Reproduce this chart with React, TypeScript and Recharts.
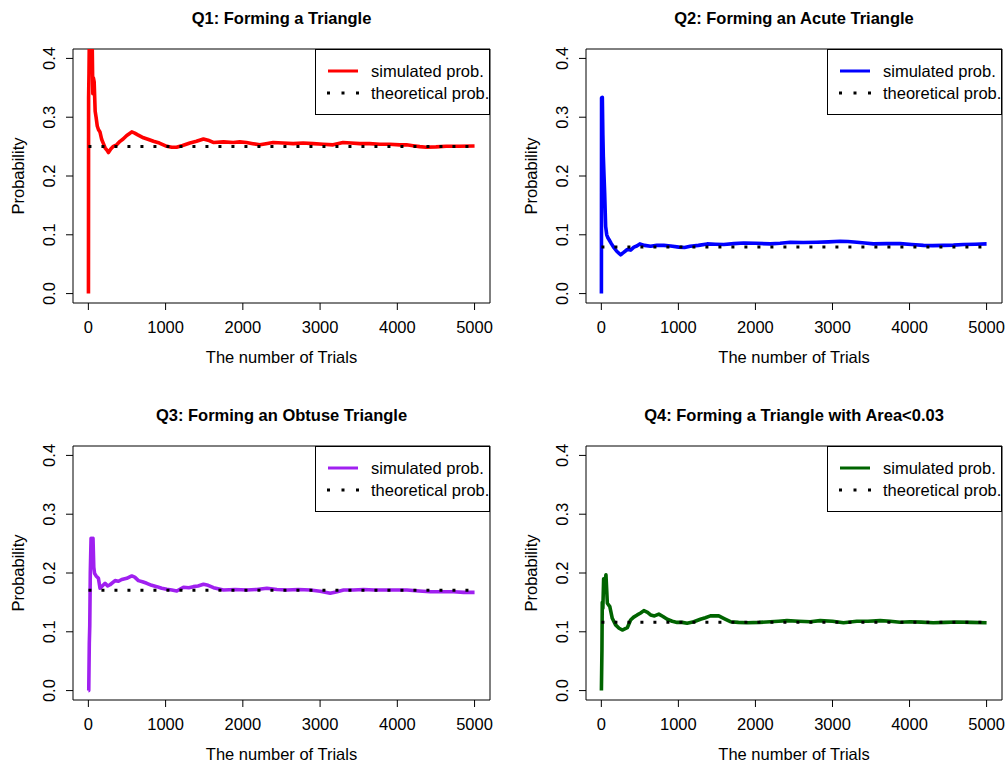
import React from 'react';
import { LineChart, Line, XAxis, YAxis, ReferenceArea, Legend, Label } from 'recharts';

const FONT = '"Liberation Sans", Arial, Helvetica, sans-serif';
const FS = 16.5;

const xTicks = [0, 1000, 2000, 3000, 4000, 5000];
const yTicks = [0, 0.1, 0.2, 0.3, 0.4];
const xDomain: [number, number] = [-198.96, 5199.96];
const yDomain: [number, number] = [-0.016, 0.416];

const titles = [
  'Q1: Forming a Triangle',
  'Q2: Forming an Acute Triangle',
  'Q3: Forming an Obtuse Triangle',
  'Q4: Forming a Triangle with Area<0.03',
];
const colors = ['#FF0000', '#0000FF', '#A020F0', '#006400'];
const theoretical = [0.25, 0.0794, 0.1706, 0.1162];
const legendLabels = ['simulated prob.', 'theoretical prob.'];

const q1Trials = [1, 3, 8, 15, 25, 40, 50, 58, 65, 75, 88, 100, 115, 130, 150, 173, 195, 216, 240, 260, 290, 324, 366, 410, 450, 497, 530, 562, 600, 640, 713, 780, 842, 920, 1015, 1080, 1142, 1220, 1315, 1400, 1490, 1550, 1617, 1750, 1875, 1960, 2047, 2130, 2220, 2300, 2392, 2520, 2651, 2780, 2910, 3040, 3168, 3297, 3400, 3513, 3640, 3771, 3900, 4030, 4120, 4203, 4290, 4375, 4500, 4633, 4800, 5000];
const q1Probs = [0, 0.333, 0.375, 0.467, 0.48, 0.45, 0.42, 0.34, 0.367, 0.36, 0.31, 0.30, 0.285, 0.279, 0.275, 0.262, 0.255, 0.248, 0.244, 0.240, 0.246, 0.2505, 0.253, 0.259, 0.263, 0.269, 0.272, 0.275, 0.273, 0.27, 0.265, 0.262, 0.259, 0.256, 0.2505, 0.249, 0.249, 0.252, 0.256, 0.259, 0.263, 0.261, 0.257, 0.258, 0.257, 0.258, 0.257, 0.255, 0.253, 0.255, 0.257, 0.256, 0.255, 0.256, 0.255, 0.254, 0.253, 0.257, 0.256, 0.255, 0.255, 0.254, 0.254, 0.253, 0.253, 0.2515, 0.250, 0.249, 0.2495, 0.2505, 0.2505, 0.251];

const q2Trials = [1, 3, 8, 13, 20, 26, 35, 43, 56, 70, 85, 99, 130, 164, 200, 250, 290, 337, 380, 423, 460, 500, 560, 639, 720, 811, 900, 1005, 1080, 1153, 1260, 1373, 1480, 1589, 1720, 1848, 2000, 2193, 2320, 2452, 2620, 2797, 2950, 3100, 3200, 3316, 3420, 3532, 3700, 3877, 4030, 4180, 4300, 4439, 4570, 4698, 4850, 5000];
const q2Probs = [0, 0.333, 0.3, 0.334, 0.27, 0.233, 0.2, 0.172, 0.114, 0.1, 0.095, 0.092, 0.085, 0.078, 0.072, 0.066, 0.07, 0.075, 0.074, 0.079, 0.081, 0.0845, 0.082, 0.0805, 0.082, 0.082, 0.081, 0.079, 0.0785, 0.0805, 0.082, 0.0845, 0.084, 0.0835, 0.085, 0.086, 0.0855, 0.0845, 0.0855, 0.0873, 0.087, 0.0873, 0.088, 0.089, 0.0885, 0.0873, 0.086, 0.0845, 0.085, 0.085, 0.0835, 0.082, 0.0815, 0.082, 0.0825, 0.0835, 0.084, 0.0845];

const q3Trials = [1, 5, 12, 18, 25, 35, 50, 60, 70, 80, 100, 130, 151, 180, 216, 250, 281, 346, 390, 432, 497, 562, 600, 648, 700, 756, 820, 886, 950, 1015, 1080, 1145, 1231, 1300, 1360, 1420, 1490, 1550, 1620, 1749, 1900, 2051, 2180, 2311, 2440, 2570, 2720, 2872, 3001, 3131, 3220, 3304, 3430, 3563, 3700, 3865, 4000, 4124, 4280, 4426, 4580, 4728, 4860, 5000];
const q3Probs = [0, 0, 0.08, 0.11, 0.2, 0.259, 0.25, 0.259, 0.21, 0.1995, 0.195, 0.191, 0.174, 0.178, 0.1825, 0.178, 0.18, 0.187, 0.186, 0.189, 0.191, 0.195, 0.193, 0.187, 0.185, 0.1825, 0.179, 0.1768, 0.174, 0.1723, 0.171, 0.1694, 0.1757, 0.175, 0.1768, 0.178, 0.1808, 0.179, 0.175, 0.171, 0.172, 0.171, 0.172, 0.174, 0.172, 0.171, 0.172, 0.171, 0.169, 0.1655, 0.168, 0.171, 0.171, 0.172, 0.171, 0.171, 0.171, 0.171, 0.1695, 0.168, 0.168, 0.168, 0.167, 0.167];

const q4Trials = [1, 8, 12, 20, 30, 45, 60, 70, 78, 110, 142, 185, 230, 272, 337, 380, 420, 466, 510, 552, 600, 639, 690, 746, 800, 855, 920, 984, 1050, 1113, 1200, 1286, 1350, 1416, 1524, 1600, 1675, 1780, 1891, 2050, 2193, 2300, 2409, 2560, 2711, 2840, 3000, 3143, 3316, 3460, 3618, 3750, 3877, 4007, 4150, 4309, 4460, 4611, 4800, 5000];
const q4Probs = [0, 0.07, 0.15, 0.14, 0.19, 0.18, 0.197, 0.17, 0.1485, 0.1428, 0.123, 0.1117, 0.106, 0.103, 0.107, 0.12, 0.125, 0.1287, 0.132, 0.136, 0.133, 0.1287, 0.127, 0.130, 0.126, 0.1213, 0.118, 0.116, 0.116, 0.1145, 0.117, 0.1213, 0.124, 0.127, 0.127, 0.122, 0.1172, 0.116, 0.1155, 0.116, 0.1172, 0.118, 0.119, 0.118, 0.1172, 0.119, 0.118, 0.1155, 0.118, 0.118, 0.119, 0.118, 0.1163, 0.1172, 0.1165, 0.1155, 0.116, 0.1166, 0.116, 0.1155];

const allTrials = [q1Trials, q2Trials, q3Trials, q4Trials];
const allProbs = [q1Probs, q2Probs, q3Probs, q4Probs];

const XTick = (props: any) => {
  const { x, y, payload } = props;
  return (
    <text x={x} y={y + 12} textAnchor="middle" fontSize={FS} fontFamily={FONT} fill="#000">
      {payload.value}
    </text>
  );
};

const YTick = (props: any) => {
  const { x, y, payload } = props;
  return (
    <text x={x} y={y} transform={`rotate(-90 ${x} ${y})`} textAnchor="middle" fontSize={FS} fontFamily={FONT} fill="#000">
      {Number(payload.value).toFixed(1)}
    </text>
  );
};

const XLab = (props: any) => {
  const vb = props.viewBox || {};
  return (
    <text x={vb.x + vb.width / 2} y={vb.y + 60} textAnchor="middle" fontSize={FS} fontFamily={FONT} fill="#000">
      The number of Trials
    </text>
  );
};

const YLab = (props: any) => {
  const vb = props.viewBox || {};
  const x = vb.x + vb.width - 49;
  const y = vb.y + vb.height / 2;
  return (
    <text x={x} y={y} transform={`rotate(-90 ${x} ${y})`} textAnchor="middle" fontSize={FS} fontFamily={FONT} fill="#000">
      Probability
    </text>
  );
};

const makeLegend = (color: string) => () => (
  <svg width={175} height={66} style={{ display: 'block', overflow: 'visible' }}>
    <rect x={0.5} y={0.5} width={174} height={65} fill="#fff" stroke="#000" strokeWidth={1} />
    <line x1={13} x2={43} y1={22} y2={22} stroke={color} strokeWidth={3} />
    <line x1={12} x2={44} y1={44} y2={44} stroke="#000" strokeWidth={3} strokeDasharray="3 11.5" />
    <text x={56} y={28} fontSize={FS} fontFamily={FONT} fill="#000">{legendLabels[0]}</text>
    <text x={56} y={50} fontSize={FS} fontFamily={FONT} fill="#000">{legendLabels[1]}</text>
  </svg>
);

type PanelProps = {
  idx: number;
  left: number;
  top: number;
  plotLeft: number;
  plotTop: number;
  marginRight: number;
};

function Panel({ idx, left, top, plotLeft, plotTop, marginRight }: PanelProps) {
  const W = 504;
  const H = 382;
  const plotH = 254;
  const xAxisH = H - plotTop - plotH;
  const plotW = W - plotLeft - marginRight;
  const sim = allTrials[idx].map((t, i) => ({ t, p: allProbs[idx][i] }));
  const theo = [
    { t: 1, p: theoretical[idx] },
    { t: 5000, p: theoretical[idx] },
  ];
  return (
    <div style={{ position: 'absolute', left, top, width: W, height: H }}>
      <div
        style={{
          position: 'absolute',
          left: plotLeft,
          top: plotTop - 41,
          width: plotW,
          textAlign: 'center',
          fontFamily: FONT,
          fontWeight: 'bold',
          fontSize: FS,
          lineHeight: '20px',
          color: '#000',
        }}
      >
        {titles[idx]}
      </div>
      <div style={{ position: 'absolute', left: 0, top: 0 }}>
        <LineChart width={W} height={H} margin={{ top: plotTop, right: marginRight, bottom: 0, left: 0 }}>
          <XAxis
            type="number"
            dataKey="t"
            domain={xDomain}
            ticks={xTicks}
            interval={0}
            allowDataOverflow
            height={xAxisH}
            tickSize={7}
            tickMargin={11}
            axisLine={false}
            tickLine={{ stroke: '#000', strokeWidth: 1 }}
            tick={XTick}
          >
            <Label content={XLab} />
          </XAxis>
          <YAxis
            type="number"
            dataKey="p"
            domain={yDomain}
            ticks={yTicks}
            interval={0}
            allowDataOverflow
            width={plotLeft}
            tickSize={7}
            tickMargin={11}
            axisLine={false}
            tickLine={{ stroke: '#000', strokeWidth: 1 }}
            tick={YTick}
          >
            <Label content={YLab} />
          </YAxis>
          <Line
            data={sim}
            dataKey="p"
            type="linear"
            stroke={colors[idx]}
            strokeWidth={3.6}
            strokeLinejoin="round"
            dot={false}
            activeDot={false}
            isAnimationActive={false}
          />
          <Line
            data={theo}
            dataKey="p"
            type="linear"
            stroke="#000"
            strokeWidth={3}
            strokeDasharray="3 10"
            dot={false}
            activeDot={false}
            isAnimationActive={false}
          />
          <ReferenceArea
            x1={xDomain[0]}
            x2={xDomain[1]}
            y1={yDomain[0]}
            y2={yDomain[1]}
            fill="#fff"
            fillOpacity={0}
            stroke="#000"
            strokeWidth={1}
            ifOverflow="visible"
          />
          <Legend
            layout="horizontal"
            verticalAlign="middle"
            align="center"
            content={makeLegend(colors[idx])}
            wrapperStyle={{
              position: 'absolute',
              left: plotLeft + plotW - 175,
              top: plotTop,
              width: 175,
              height: 66,
              margin: 0,
              padding: 0,
            }}
          />
        </LineChart>
      </div>
    </div>
  );
}

export default function App() {
  return (
    <div style={{ position: 'absolute', left: 0, top: 0, width: 1008, height: 764, background: '#fff', overflow: 'hidden' }}>
      <Panel idx={0} left={0} top={0} plotLeft={73} plotTop={49} marginRight={14} />
      <Panel idx={1} left={504} top={0} plotLeft={82} plotTop={49} marginRight={6} />
      <Panel idx={2} left={0} top={382} plotLeft={73} plotTop={64} marginRight={14} />
      <Panel idx={3} left={504} top={382} plotLeft={82} plotTop={64} marginRight={6} />
    </div>
  );
}
